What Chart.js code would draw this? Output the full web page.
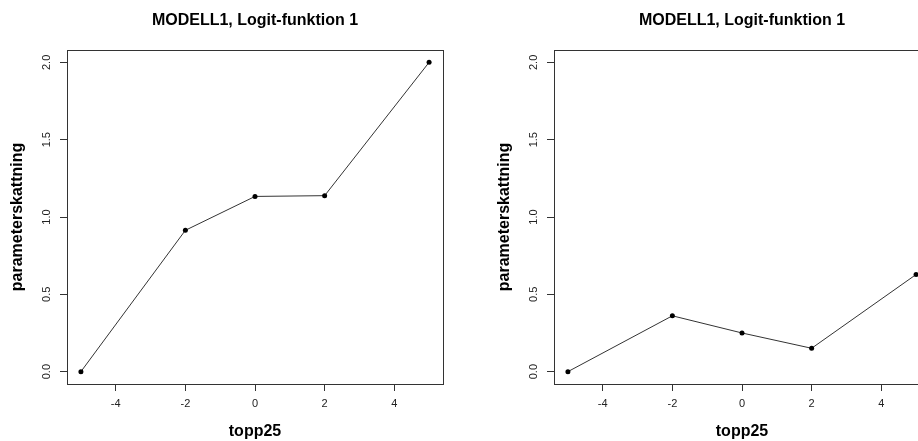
<!DOCTYPE html>
<html>
<head>
<meta charset="utf-8">
<script src="https://cdn.jsdelivr.net/npm/chart.js@4"></script>
<style>
  html, body { margin: 0; padding: 0; background: #fff; overflow: hidden; width: 918px; height: 441px; }
  .panel { position: absolute; top: 0; width: 459px; height: 441px; }
</style>
</head>
<body>
<div class="panel" style="left:0"><canvas id="chartA" width="459" height="441"></canvas></div>
<div class="panel" style="left:487px"><canvas id="chartB" width="459" height="441"></canvas></div>
<script>
// data
const topp25 = [-5, -2, 0, 2, 5];
const skattningA = [0, 0.914, 1.133, 1.138, 2.0];
const skattningB = [0, 0.361, 0.25, 0.151, 0.628];
const xTicks = [-4, -2, 0, 2, 4];
const yTicks = [0, 0.5, 1.0, 1.5, 2.0];
const titel = 'MODELL1, Logit-funktion 1';

Chart.defaults.font.family = '"Liberation Sans", Arial, sans-serif';
Chart.defaults.color = '#222';

// R style: box round the plot region, title over the plot region, y tick labels on their side
const rBox = {
    id: 'rBox',
    afterDraw(chart) {
        const { ctx, chartArea: a, scales: { y } } = chart;
        ctx.save();
        ctx.strokeStyle = '#333';
        ctx.lineWidth = 1;
        ctx.strokeRect(Math.round(a.left) + 0.5, Math.round(a.top) + 0.5,
            Math.round(a.right - a.left), Math.round(a.bottom - a.top));

        ctx.font = 'bold 16px "Liberation Sans", Arial, sans-serif';
        ctx.fillStyle = '#000';
        ctx.textAlign = 'center';
        ctx.textBaseline = 'middle';
        ctx.fillText(titel, (a.left + a.right) / 2, 21);

        ctx.font = '11px "Liberation Sans", Arial, sans-serif';
        ctx.fillStyle = '#222';
        y.ticks.forEach(t => {
            const py = y.getPixelForValue(t.value);
            ctx.save();
            ctx.translate(47, py);
            ctx.rotate(-Math.PI / 2);
            ctx.fillText(t.value.toFixed(1), 0, 0);
            ctx.restore();
        });
        ctx.restore();
    }
};

function makePlot(id, values) {
    return new Chart(document.getElementById(id), {
        type: 'line',
        data: {
            datasets: [{
                data: topp25.map((x, i) => ({ x: x, y: values[i] })),
                borderColor: '#333',
                borderWidth: 1,
                pointRadius: 2.5,
                pointBackgroundColor: '#000',
                pointBorderWidth: 0,
                tension: 0
            }]
        },
        options: {
            responsive: false,
            animation: false,
            devicePixelRatio: 1,
            layout: { padding: { left: 0, right: 16, top: 50, bottom: 0 } },
            plugins: {
                legend: { display: false },
                tooltip: { enabled: false },
                title: { display: false }
            },
            scales: {
                x: {
                    type: 'linear',
                    min: -5.4,
                    max: 5.4,
                    afterBuildTicks: s => { s.ticks = xTicks.map(v => ({ value: v })); },
                    afterFit: s => { s.height = 57; },
                    grid: { drawOnChartArea: false, tickLength: 7, tickColor: '#333' },
                    border: { display: false },
                    ticks: { padding: 6, font: { size: 11 }, color: '#222', maxRotation: 0 },
                    title: {
                        display: true,
                        text: 'topp25',
                        color: '#000',
                        font: { size: 16, weight: 'bold' },
                        padding: { top: 0, bottom: -0.6 }
                    }
                },
                y: {
                    type: 'linear',
                    min: -0.08,
                    max: 2.08,
                    afterBuildTicks: s => { s.ticks = yTicks.map(v => ({ value: v })); },
                    afterFit: s => { s.width = 67; },
                    grid: { drawOnChartArea: false, tickLength: 7, tickColor: '#333' },
                    border: { display: false },
                    ticks: { display: false },
                    title: {
                        display: true,
                        text: 'parameterskattning',
                        color: '#000',
                        font: { size: 16, weight: 'bold' },
                        padding: { top: 8.4, bottom: 0 }
                    }
                }
            }
        },
        plugins: [rBox]
    });
}

makePlot('chartA', skattningA);
makePlot('chartB', skattningB);
</script>
</body>
</html>
